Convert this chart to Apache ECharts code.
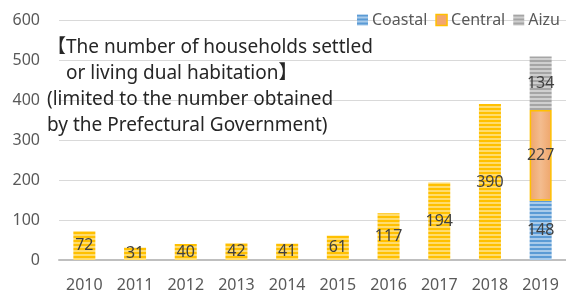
<!DOCTYPE html>
<html>
<head>
<meta charset="utf-8">
<script src="https://cdn.jsdelivr.net/npm/echarts@6/dist/echarts.min.js"></script>
<style>
  html, body { margin: 0; padding: 0; background: #fff; }
  #chart { width: 566px; height: 294px; }
</style>
</head>
<body>
<div id="chart"></div>
<script>
// values
var years = ['2010', '2011', '2012', '2013', '2014', '2015', '2016', '2017', '2018', '2019'];
var coastal = ['-', '-', '-', '-', '-', '-', '-', '-', '-', 148];
var central = [72, 31, 40, 42, 41, 61, 117, 194, 390, 227];
var aizu = ['-', '-', '-', '-', '-', '-', '-', '-', '-', 134];
var titleLines = [
    '\u3010The number of households settled',
    '\u3000or living dual habitation\u3011',
    '(limited to the number obtained',
    'by the Prefectural Government)'
];

// excel-ish narrow horizontal stripes
function stripes(c1, c2) {
    var cv = document.createElement('canvas');
    cv.width = 4;
    cv.height = 4;
    var ctx = cv.getContext('2d');
    ctx.fillStyle = c1;
    ctx.fillRect(0, 0, 4, 2);
    ctx.fillStyle = c2;
    ctx.fillRect(0, 2, 4, 2);
    return { image: cv, repeat: 'repeat' };
}

var blueFill = stripes('#5B9BD5', '#A9CBEA');
var yellowFill = stripes('#FFC000', '#FFDC6E');
var grayFill = stripes('#A5A5A5', '#CFCFCF');
var orangeFill = {
    type: 'linear', x: 0, y: 0, x2: 1, y2: 0,
    colorStops: [
        { offset: 0, color: '#EFA56A' },
        { offset: 0.5, color: '#F3BC8E' },
        { offset: 1, color: '#EFA56A' }
    ]
};

var centralData = central.map(function (v, i) {
    if (years[i] === '2019') {
        return { value: v, itemStyle: { color: orangeFill, borderColor: '#FFC000', borderWidth: 1.5 } };
    }
    return v;
});

var font = "'Noto Sans', 'Noto Sans CJK JP', sans-serif";
var lbl = { show: true, position: 'inside', color: '#404040', fontSize: 16, fontFamily: font };

var myChart = echarts.init(document.getElementById('chart'));
var option = {
    animation: false,
    backgroundColor: '#fff',
    textStyle: { fontFamily: font },
    grid: { left: 59, top: 20, width: 510, bottom: 34 },
    title: {
        text: titleLines.join('\n'),
        left: 47,
        top: 35,
        padding: 0,
        textStyle: { fontSize: 19, fontWeight: 'normal', color: '#262626', lineHeight: 26, fontFamily: font }
    },
    legend: {
        right: 1,
        top: 7,
        itemWidth: 11,
        itemHeight: 11,
        itemGap: 8,
        icon: 'rect',
        textStyle: { fontSize: 16, color: '#595959', padding: [0, 0, 0, -1] },
        data: [
            { name: 'Coastal' },
            { name: 'Central', itemStyle: { color: '#F3A66E', borderColor: '#FFC000', borderWidth: 1.5 } },
            { name: 'Aizu' }
        ]
    },
    xAxis: {
        type: 'category',
        data: years,
        axisLine: { lineStyle: { color: '#BFBFBF', width: 2 } },
        axisTick: { show: false },
        axisLabel: { color: '#595959', fontSize: 16, margin: 17 }
    },
    yAxis: {
        type: 'value',
        min: 0,
        max: 600,
        interval: 100,
        axisLabel: { color: '#595959', fontSize: 16, margin: 19 },
        splitLine: { lineStyle: { color: '#D9D9D9', width: 1 } }
    },
    series: [
        { name: 'Coastal', type: 'bar', stack: 'all', barWidth: 22, data: coastal, itemStyle: { color: blueFill }, label: lbl },
        { name: 'Central', type: 'bar', stack: 'all', barWidth: 22, data: centralData, itemStyle: { color: yellowFill }, label: lbl },
        { name: 'Aizu', type: 'bar', stack: 'all', barWidth: 22, data: aizu, itemStyle: { color: grayFill }, label: lbl }
    ]
};
myChart.setOption(option);
</script>
</body>
</html>
